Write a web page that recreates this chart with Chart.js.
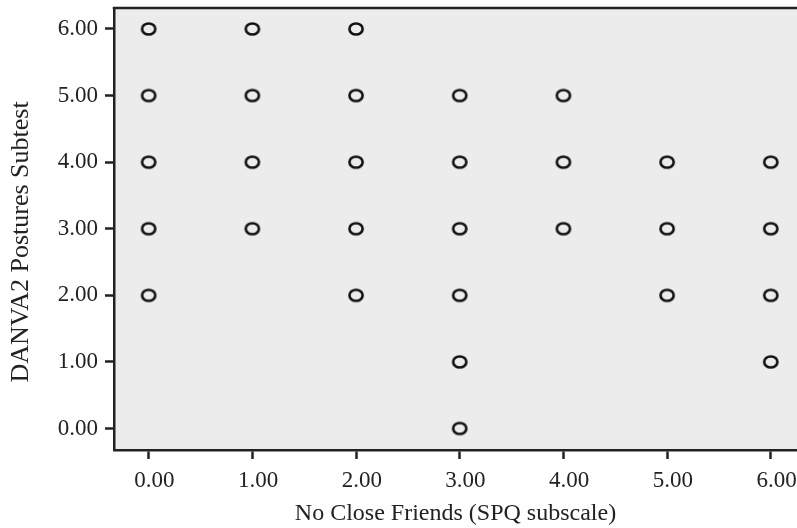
<!DOCTYPE html>
<html>
<head>
<meta charset="utf-8">
<script src="https://cdn.jsdelivr.net/npm/chart.js@4.4.1/dist/chart.umd.min.js"></script>
<style>
  html, body { margin: 0; padding: 0; background: #ffffff; }
  #wrap { width: 797px; height: 528px; position: relative; }
</style>
</head>
<body>
<div id="wrap"><canvas id="c" width="797" height="528"></canvas></div>
<script>
// ---- Data ----
const friendsScores = [0, 1, 2, 3, 4, 5, 6];
const posturesByFriends = [
  [6, 5, 4, 3, 2],
  [6, 5, 4, 3],
  [6, 5, 4, 3, 2],
  [5, 4, 3, 2, 1, 0],
  [5, 4, 3],
  [4, 3, 2],
  [4, 3, 2, 1]
];
const xTickValues = [0, 1, 2, 3, 4, 5, 6];
const yTickValues = [0, 1, 2, 3, 4, 5, 6];
const xTitle = 'No Close Friends (SPQ subscale)';
const yTitle = 'DANVA2 Postures Subtest';

const points = [];
friendsScores.forEach((fx, i) => {
  posturesByFriends[i].forEach(v => points.push({ x: fx, y: v }));
});

// ---- Marker: open ellipse ----
function makeEllipse() {
  const c = document.createElement('canvas');
  c.width = 20; c.height = 18;
  const g = c.getContext('2d');
  g.strokeStyle = '#111';
  g.lineWidth = 2.6;
  g.beginPath();
  g.ellipse(10, 9, 6.6, 5.5, 0, 0, Math.PI * 2);
  g.stroke();
  return c;
}
const marker = makeEllipse();

const FONT = "'Liberation Serif', 'Times New Roman', serif";
const AXIS = '#222222';

const plotBg = {
  id: 'plotBg',
  beforeDraw(chart) {
    const { ctx, chartArea: a } = chart;
    ctx.save();
    ctx.fillStyle = '#ececec';
    ctx.fillRect(a.left, a.top, a.right - a.left, a.bottom - a.top);
    ctx.restore();
  },
  afterDatasetsDraw(chart) {
    const { ctx, chartArea: a } = chart;
    ctx.save();
    ctx.strokeStyle = AXIS;
    ctx.lineWidth = 2.5;
    ctx.beginPath();
    ctx.moveTo(a.left - 1.25, a.top);
    ctx.lineTo(a.right, a.top);
    ctx.stroke();
    ctx.restore();
  }
};

function noPad(scale) {
  scale.paddingTop = 0; scale.paddingBottom = 0;
  scale.paddingLeft = 0; scale.paddingRight = 0;
}

new Chart(document.getElementById('c'), {
  type: 'scatter',
  data: {
    datasets: [{
      data: points,
      pointStyle: marker,
      pointRadius: 7,
      pointHoverRadius: 7
    }]
  },
  options: {
    responsive: false,
    animation: false,
    events: [],
    layout: { autoPadding: false, padding: { top: 8, right: 0, left: 0, bottom: 0 } },
    plugins: { legend: { display: false }, tooltip: { enabled: false } },
    scales: {
      x: {
        type: 'linear',
        min: -0.334,
        max: 6.253,
        afterBuildTicks(scale) { scale.ticks = xTickValues.map(v => ({ value: v })); },
        afterFit(scale) { scale.height = 78; noPad(scale); },
        border: { display: true, color: AXIS, width: 2.5 },
        grid: { display: true, drawOnChartArea: false, drawTicks: true, tickLength: 9, tickColor: AXIS, tickWidth: 2.5 },
        ticks: {
          color: '#222',
          font: { family: FONT, size: 23 },
          padding: 8,
          maxRotation: 0,
          callback: v => '\u2002' + Number(v).toFixed(2)
        },
        title: {
          display: true,
          text: xTitle,
          color: '#222',
          font: { family: FONT, size: 24 },
          padding: { top: 4, bottom: 0 }
        }
      },
      y: {
        type: 'linear',
        min: -0.323,
        max: 6.315,
        afterBuildTicks(scale) { scale.ticks = yTickValues.map(v => ({ value: v })); },
        afterFit(scale) { scale.width = 114; noPad(scale); },
        border: { display: true, color: AXIS, width: 2.5 },
        grid: { display: true, drawOnChartArea: false, drawTicks: true, tickLength: 9, tickColor: AXIS, tickWidth: 2.5 },
        ticks: {
          color: '#222',
          font: { family: FONT, size: 23 },
          padding: 7,
          callback: v => Number(v).toFixed(2)
        },
        title: {
          display: true,
          text: yTitle + '\u2002\u2002',
          color: '#222',
          font: { family: FONT, size: 26 },
          padding: { top: 6, bottom: 0 }
        }
      }
    }
  },
  plugins: [plotBg]
});
</script>
</body>
</html>
